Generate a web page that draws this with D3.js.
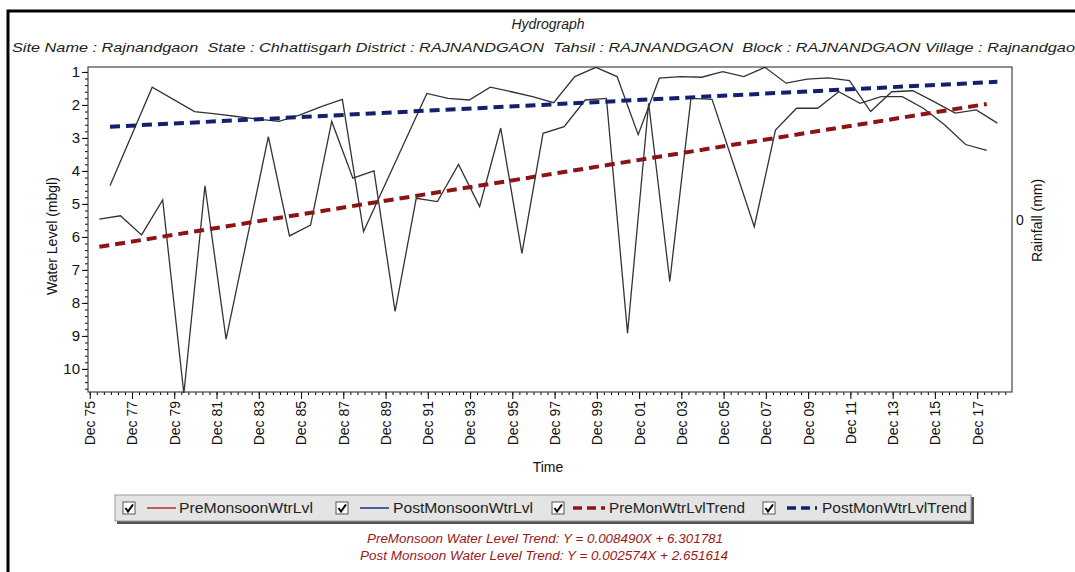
<!DOCTYPE html>
<html><head><meta charset="utf-8">
<script src="https://cdn.jsdelivr.net/npm/d3@7"></script>
<style>
body{margin:0;background:#fff;}
svg{display:block;font-family:Arial,"Liberation Sans",sans-serif;}
</style>
</head><body>
<svg id="c" width="1075" height="572"></svg>
<script>
// ---------- data ----------
const titleText = "Hydrograph";
const subtitleText = "Site Name : Rajnandgaon  State : Chhattisgarh District : RAJNANDGAON  Tahsil : RAJNANDGAON  Block : RAJNANDGAON Village : Rajnandgaon";
const preYears  = [1976,1977,1978,1979,1980,1981,1982,1984,1985,1986,1987,1988,1989,1990,1991,1992,1993,1994,1995,1996,1997,1998,1999,2000,2001,2002,2003,2004,2005,2007,2008,2009,2010,2011,2012,2013,2014,2015,2016,2017,2018];
const preValues = [5.46,5.36,5.94,4.88,10.75,4.45,9.10,2.96,5.97,5.64,2.50,4.22,4.00,8.26,4.83,4.93,3.80,5.08,2.70,6.50,2.86,2.66,1.85,1.80,8.92,1.95,7.35,1.80,1.83,5.69,2.76,2.10,2.10,1.60,1.95,1.75,1.75,2.10,2.60,3.20,3.38];
const postYears  = [1976,1978,1980,1981,1982,1983,1984,1985,1986,1987,1988,1991,1992,1993,1994,1995,1996,1997,1998,1999,2000,2001,2002,2003,2004,2005,2006,2007,2008,2009,2010,2011,2012,2013,2014,2015,2016,2017,2018];
const postValues = [4.45,1.46,2.20,2.27,2.35,2.43,2.50,2.30,2.05,1.83,5.84,1.65,1.80,1.85,1.46,1.60,1.75,1.93,1.14,0.86,1.14,2.90,1.19,1.14,1.16,0.99,1.14,0.86,1.34,1.22,1.18,1.26,2.20,1.60,1.57,1.90,2.25,2.15,2.55];
const preTrendYears = [1976, 2018];
const preTrendValues = [6.30, 1.97];
const postTrendYears = [1976, 2018];
const postTrendValues = [2.66, 1.30];
const xTickYears = [1975,1977,1979,1981,1983,1985,1987,1989,1991,1993,1995,1997,1999,2001,2003,2005,2007,2009,2011,2013,2015,2017];
const yTicks = [1,2,3,4,5,6,7,8,9,10];
const legendLabels = ["PreMonsoonWtrLvl","PostMonsoonWtrLvl","PreMonWtrLvlTrend","PostMonWtrLvlTrend"];
const trendTexts = ["PreMonsoon Water Level Trend: Y = 0.008490X + 6.301781",
                    "Post Monsoon Water Level Trend: Y = 0.002574X + 2.651614"];
const yLabel = "Water Level (mbgl)";
const y2Label = "Rainfall (mm)";
const y2Ticks = ["0"];
const xLabel = "Time";

// ---------- layout ----------
const svg = d3.select("#c");
const L = 88, R = 1012, T = 67, B = 392;
const PRE_MONTH = 4, POST_MONTH = 10; // May, Nov
const x = d3.scaleTime().domain([new Date(1975,10,1), new Date(2019,6,26)]).range([L, R]);
const y = d3.scaleLinear().domain([0.85, 10.7]).range([T, B]);
const lineCol = "#333", preTrendCol = "#8c1414", postTrendCol = "#14206e";

// outer frame
svg.append("rect").attr("x",8).attr("y",11).attr("width",1100).attr("height",620)
  .attr("fill","none").attr("stroke","#000").attr("stroke-width",3);

// titles
svg.append("text").attr("x",548).attr("y",29).attr("text-anchor","middle")
  .attr("font-size",14).attr("font-style","italic").attr("fill","#222").text(titleText);
svg.append("text").attr("x",12).attr("y",52).style("white-space","pre")
  .attr("font-size",13.5).attr("font-style","italic").attr("fill","#222")
  .attr("textLength",1072).attr("lengthAdjust","spacingAndGlyphs").text(subtitleText);

// clip
svg.append("clipPath").attr("id","pc").append("rect").attr("x",L).attr("y",T).attr("width",R-L).attr("height",B-T+1);

// axes
const xMinor = d3.timeMonth.range(new Date(1975,11,1), new Date(2019,7,1), 4);
svg.append("g").attr("transform",`translate(0,${B})`)
  .call(d3.axisBottom(x).tickValues(xMinor).tickSize(3).tickFormat(""))
  .call(g=>g.select(".domain").remove());
const gx = svg.append("g").attr("transform",`translate(0,${B})`)
  .call(d3.axisBottom(x).tickValues(xTickYears.map(yy=>new Date(yy,11,1))).tickSize(7)
        .tickFormat(d3.timeFormat("%b %y")));
gx.select(".domain").remove();
gx.selectAll("text").attr("transform","rotate(-90)").attr("text-anchor","end")
  .attr("x",-9).attr("y",0).attr("dy","0.35em").attr("font-size",14).attr("fill","#111")
  .attr("font-family","Arial, 'Liberation Sans', sans-serif");

const yMinor = d3.range(1, 10.71, 0.2);
svg.append("g").attr("transform",`translate(${L},0)`)
  .call(d3.axisLeft(y).tickValues(yMinor).tickSize(3).tickFormat(""))
  .call(g=>g.select(".domain").remove());
const gy = svg.append("g").attr("transform",`translate(${L},0)`)
  .call(d3.axisLeft(y).tickValues(yTicks).tickSize(6).tickFormat(d3.format("d")));
gy.select(".domain").remove();
gy.selectAll("text").attr("font-size",15).attr("fill","#111").attr("x",-8)
  .attr("font-family","Arial, 'Liberation Sans', sans-serif");

// plot frame
svg.append("rect").attr("x",L).attr("y",T).attr("width",R-L).attr("height",B-T)
  .attr("fill","none").attr("stroke","#444").attr("stroke-width",1.2);

// right axis
svg.append("text").attr("x",R+4).attr("y",y(5.5)+5).attr("font-size",14).attr("fill","#111").text(y2Ticks[0]);
svg.append("text").attr("transform",`translate(1042,${y(5.5)}) rotate(-90)`).attr("text-anchor","middle")
  .attr("font-size",14).attr("fill","#111").text(y2Label);
svg.append("text").attr("transform",`translate(57,236) rotate(-90)`).attr("text-anchor","middle")
  .attr("font-size",14).attr("fill","#111").text(yLabel);
svg.append("text").attr("x",548).attr("y",472).attr("text-anchor","middle")
  .attr("font-size",14).attr("fill","#111").text(xLabel);

// lines
const plot = svg.append("g").attr("clip-path","url(#pc)");
const ln = d3.line().x(d=>x(d[0])).y(d=>y(d[1]));
const preData = preYears.map((yy,i)=>[new Date(yy,PRE_MONTH,15), preValues[i]]);
const postData = postYears.map((yy,i)=>[new Date(yy,POST_MONTH,15), postValues[i]]);
plot.append("path").attr("d",ln(preData)).attr("fill","none").attr("stroke",lineCol).attr("stroke-width",1.3);
plot.append("path").attr("d",ln(postData)).attr("fill","none").attr("stroke",lineCol).attr("stroke-width",1.3);
const preTrend = preTrendYears.map((yy,i)=>[new Date(yy,PRE_MONTH,15), preTrendValues[i]]);
const postTrend = postTrendYears.map((yy,i)=>[new Date(yy,POST_MONTH,15), postTrendValues[i]]);
plot.append("path").attr("d",ln(preTrend)).attr("fill","none").attr("stroke",preTrendCol)
  .attr("stroke-width",4).attr("stroke-dasharray","10,6");
plot.append("path").attr("d",ln(postTrend)).attr("fill","none").attr("stroke",postTrendCol)
  .attr("stroke-width",4).attr("stroke-dasharray","10,6");

// legend
const lg = svg.append("g");
lg.append("rect").attr("x",117).attr("y",497).attr("width",857).attr("height",27).attr("fill","#555");
lg.append("rect").attr("x",115).attr("y",495).attr("width",856).attr("height",26).attr("fill","#e4e4e4").attr("stroke","#999");
const items = [
  {cb:123, l0:147, l1:176, t0:179, t1:313, col:"#b03030", dash:null},
  {cb:336, l0:360, l1:389, t0:393, t1:533, col:"#1f2f7a", dash:null},
  {cb:552, l0:573, l1:605, t0:609, t1:745, col:preTrendCol, dash:"9,5"},
  {cb:763, l0:787, l1:817, t0:822, t1:967, col:postTrendCol, dash:"9,5"}
];
items.forEach((it,i)=>{
  const cy = 508;
  lg.append("rect").attr("x",it.cb).attr("y",cy-6).attr("width",12).attr("height",12)
    .attr("fill","#fff").attr("stroke","#555");
  lg.append("path").attr("d",`M${it.cb+2.5},${cy} L${it.cb+5},${cy+3.5} L${it.cb+10},${cy-3.5}`)
    .attr("fill","none").attr("stroke","#000").attr("stroke-width",2);
  lg.append("line").attr("x1",it.l0).attr("x2",it.l1).attr("y1",cy).attr("y2",cy)
    .attr("stroke",it.col).attr("stroke-width",it.dash?3.5:1.5).attr("stroke-dasharray",it.dash);
  lg.append("text").attr("x",it.t0).attr("y",cy+5).attr("font-size",14).attr("fill","#222")
    .attr("textLength",it.t1-it.t0).attr("lengthAdjust","spacingAndGlyphs").text(legendLabels[i]);
});

// trend equations
svg.append("text").attr("x",367).attr("y",543).attr("font-size",12).attr("font-style","italic")
  .attr("fill","#9a1818").attr("textLength",356).attr("lengthAdjust","spacingAndGlyphs").text(trendTexts[0]);
svg.append("text").attr("x",360).attr("y",560).attr("font-size",12).attr("font-style","italic")
  .attr("fill","#9a1818").attr("textLength",368).attr("lengthAdjust","spacingAndGlyphs").text(trendTexts[1]);
</script>
</body></html>
